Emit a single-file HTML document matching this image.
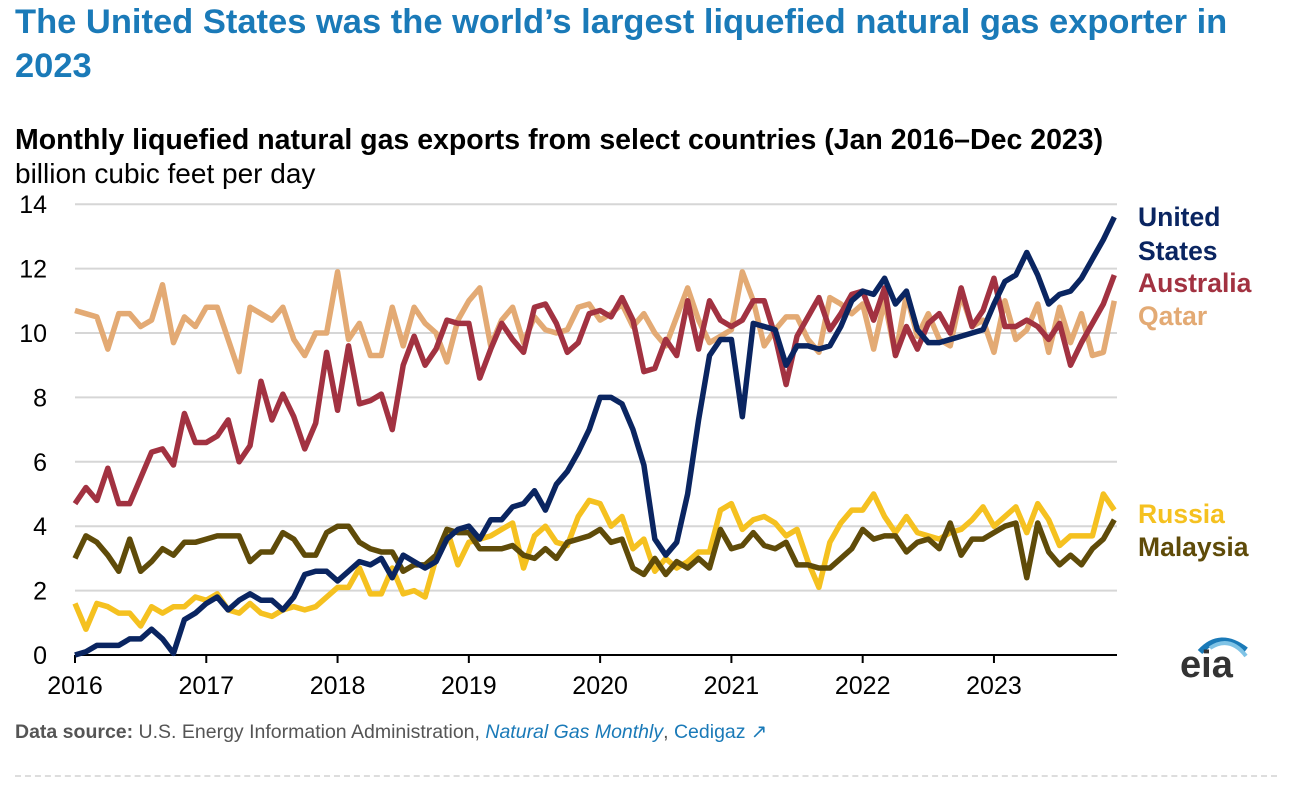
<!DOCTYPE html>
<html><head><meta charset="utf-8"><style>
body{margin:0;background:#fff;font-family:"Liberation Sans",Arial,sans-serif;}
#wrap{position:relative;width:1292px;height:798px;overflow:hidden;}
.t{position:absolute;white-space:nowrap;}
</style></head><body>
<div id="wrap">
<div class="t" style="left:15px;top:0px;font-size:34.5px;font-weight:bold;color:#1a7ab8;line-height:44px;">The United States was the world’s largest liquefied natural gas exporter in<br>2023</div>
<div class="t" style="left:15px;top:124px;font-size:28.5px;font-weight:bold;color:#000;">Monthly liquefied natural gas exports from select countries (Jan 2016–Dec 2023)</div>
<div class="t" style="left:15px;top:158px;font-size:28px;color:#000;">billion cubic feet per day</div>
<svg id="chart" width="1292" height="798" style="position:absolute;left:0;top:0"></svg>
<div class="t" style="left:15px;top:720px;font-size:19.5px;color:#555;"><b>Data source:</b> U.S. Energy Information Administration, <i style="color:#1a7ab8">Natural Gas Monthly</i>, <span style="color:#1a7ab8">Cedigaz ↗</span></div>
<div style="position:absolute;left:15px;top:775px;width:1262px;border-top:2px dashed #ddd;"></div>
<div style="position:absolute;left:1180px;top:630px;width:70px;height:60px;">
<svg width="70" height="60"><path d="M20 22 Q40 0 66 20" stroke="#1a7ab8" stroke-width="6" fill="none"/><path d="M30 18 Q50 5 66 26" stroke="#7fc3e6" stroke-width="4" fill="none"/></svg>
<div class="t" style="left:0;top:14px;font-size:38px;font-weight:bold;color:#333;">eia</div></div>
</div>
<script>
const years=["2016","2017","2018","2019","2020","2021","2022","2023"];
const yTicks=[0,2,4,6,8,10,12,14];
const unitedStates=[0,0.1,0.3,0.3,0.3,0.5,0.5,0.8,0.5,0.05,1.1,1.3,
1.6,1.8,1.4,1.7,1.9,1.7,1.7,1.4,1.8,2.5,2.6,2.6,
2.3,2.6,2.9,2.8,3.0,2.4,3.1,2.9,2.7,2.9,3.6,3.9,
4.0,3.6,4.2,4.2,4.6,4.7,5.1,4.5,5.3,5.7,6.3,7.0,
8.0,8.0,7.8,7.0,5.9,3.6,3.1,3.5,5.0,7.3,9.3,9.8,
9.8,7.4,10.3,10.2,10.1,9.0,9.6,9.6,9.5,9.6,10.2,11.0,
11.3,11.2,11.7,10.9,11.3,10.1,9.7,9.7,9.8,9.9,10.0,10.1,
10.9,11.6,11.8,12.5,11.8,10.9,11.2,11.3,11.7,12.3,12.9,13.6];
const australia=[4.7,5.2,4.8,5.8,4.7,4.7,5.5,6.3,6.4,5.9,7.5,6.6,
6.6,6.8,7.3,6.0,6.5,8.5,7.3,8.1,7.4,6.4,7.2,9.4,
7.6,9.6,7.8,7.9,8.1,7.0,9.0,9.9,9.0,9.5,10.4,10.3,
10.3,8.6,9.5,10.3,9.8,9.4,10.8,10.9,10.3,9.4,9.7,10.6,
10.7,10.5,11.1,10.4,8.8,8.9,9.8,9.3,11.0,9.5,11.0,10.4,
10.2,10.4,11.0,11.0,9.9,8.4,9.9,10.5,11.1,10.1,10.6,11.2,
11.3,10.4,11.4,9.3,10.2,9.5,10.3,10.6,10.0,11.4,10.2,10.7,
11.7,10.2,10.2,10.4,10.2,9.8,10.3,9.0,9.7,10.3,10.9,11.8];
const qatar=[10.7,10.6,10.5,9.5,10.6,10.6,10.2,10.4,11.5,9.7,10.5,10.2,
10.8,10.8,9.8,8.8,10.8,10.6,10.4,10.8,9.8,9.3,10.0,10.0,
11.9,9.8,10.3,9.3,9.3,10.8,9.6,10.8,10.3,10.0,9.1,10.4,
11.0,11.4,9.6,10.4,10.8,9.7,10.5,10.1,10.0,10.1,10.8,10.9,
10.4,10.6,10.9,10.2,10.6,10.0,9.6,10.5,11.4,10.4,9.7,9.9,
10.1,11.9,11.0,9.6,10.1,10.5,10.5,9.8,9.4,11.1,10.9,10.6,
10.9,9.5,11.0,9.3,11.2,9.9,10.6,9.8,9.6,11.2,10.2,10.4,
9.4,11.0,9.8,10.1,10.9,9.4,10.8,9.7,10.6,9.3,9.4,11.0];
const russia=[1.6,0.8,1.6,1.5,1.3,1.3,0.9,1.5,1.3,1.5,1.5,1.8,
1.7,1.9,1.4,1.3,1.6,1.3,1.2,1.4,1.5,1.4,1.5,1.8,
2.1,2.1,2.7,1.9,1.9,2.7,1.9,2.0,1.8,3.0,3.9,2.8,
3.5,3.6,3.7,3.9,4.1,2.7,3.7,4.0,3.5,3.4,4.3,4.8,
4.7,4.0,4.3,3.3,3.6,2.6,3.0,2.7,2.9,3.2,3.2,4.5,
4.7,3.9,4.2,4.3,4.1,3.7,3.9,2.9,2.1,3.5,4.1,4.5,
4.5,5.0,4.3,3.8,4.3,3.8,3.7,3.6,3.8,3.9,4.2,4.6,
4.0,4.3,4.6,3.8,4.7,4.2,3.4,3.7,3.7,3.7,5.0,4.5];
const malaysia=[3.0,3.7,3.5,3.1,2.6,3.6,2.6,2.9,3.3,3.1,3.5,3.5,
3.6,3.7,3.7,3.7,2.9,3.2,3.2,3.8,3.6,3.1,3.1,3.8,
4.0,4.0,3.5,3.3,3.2,3.2,2.6,2.8,2.8,3.1,3.9,3.8,
3.8,3.3,3.3,3.3,3.4,3.1,3.0,3.3,3.0,3.5,3.6,3.7,
3.9,3.5,3.6,2.7,2.5,3.0,2.5,2.9,2.7,3.0,2.7,3.9,
3.3,3.4,3.8,3.4,3.3,3.5,2.8,2.8,2.7,2.7,3.0,3.3,
3.9,3.6,3.7,3.7,3.2,3.5,3.6,3.3,4.1,3.1,3.6,3.6,
3.8,4.0,4.1,2.4,4.1,3.2,2.8,3.1,2.8,3.3,3.6,4.2];
const seriesNames=["Qatar","Russia","Malaysia","Australia","United States"];

const svg=document.getElementById('chart');
const NS="http://www.w3.org/2000/svg";
const X0=75,XS=10.94,Y0=655,YS=32.2,XR=1117;
const x=i=>X0+i*XS;
const y=v=>Y0-v*YS;
function mk(tag,attrs){const e=document.createElementNS(NS,tag);for(const k in attrs)e.setAttribute(k,attrs[k]);svg.appendChild(e);return e;}
yTicks.forEach(t=>{
  if(t>0){const g=mk('line',{x1:X0,x2:XR,y1:y(t),y2:y(t),stroke:'#d6d6d6','stroke-width':2});
  
  }
  const l=mk('text',{x:47,y:y(t)+9,'text-anchor':'end','font-size':25,'font-family':'Liberation Sans, sans-serif',fill:'#000'});
  l.textContent=t;
  
  
});
const ax=mk('line',{x1:X0,x2:XR,y1:Y0,y2:Y0,stroke:'#000','stroke-width':2});


years.forEach((yr,k)=>{
  const xp=x(k*12);
  const tk=mk('line',{x1:xp,x2:xp,y1:Y0,y2:Y0+8,stroke:'#000','stroke-width':2});
  
  
  const l=mk('text',{x:xp,y:Y0+39,'text-anchor':'middle','font-size':25,'font-family':'Liberation Sans, sans-serif',fill:'#000'});
  l.textContent=yr;
  
  
});
const data=[qatar,russia,malaysia,australia,unitedStates];
const colors=['#e3aa74','#f5c120','#5f4b09','#a23241','#0a2561'];
data.forEach((arr,s)=>{
  const p=mk('polyline',{points:arr.map((v,i)=>x(i)+','+y(v)).join(' '),fill:'none',stroke:colors[s],'stroke-width':5.5,'stroke-linejoin':'round'});
  
  
});
const legend=[["United",226,4],["States",260,4],["Australia",292,3],["Qatar",325,0],["Russia",523,1],["Malaysia",556,2]];
legend.forEach(([t,yy,s])=>{
  const l=mk('text',{x:1138,y:yy,'font-size':26.5,'font-weight':'bold','font-family':'Liberation Sans, sans-serif',fill:colors[s]});
  l.textContent=t;
  
  
});
</script>
</body></html>
